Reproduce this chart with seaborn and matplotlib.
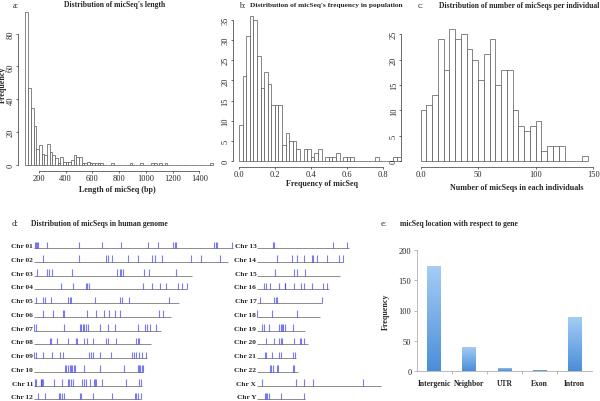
import numpy as np
import pandas as pd
import matplotlib
matplotlib.use('Agg')
import matplotlib.pyplot as plt
import seaborn as sns
from matplotlib.colors import LinearSegmentedColormap

W, H = 600, 402

# a: length of micSeq (bins of 20 bp starting at 100)
len_edges = np.arange(100, 1520, 20)
len_counts = [93, 47, 35, 24, 10, 12, 7, 6, 13, 8,
              6, 4, 1, 5, 2, 2, 2, 3, 6, 5,
              5, 1, 1, 2, 1, 1, 1, 1, 1, 0,
              0, 0, 1, 0, 0, 0, 0, 0, 0, 1,
              0, 0, 0, 1, 0, 0, 0, 1, 1, 0,
              1, 0, 1, 0, 0, 0, 0, 0, 0, 0,
              0, 0, 0, 0, 0, 0, 0, 0, 0, 1]

# b: frequency in population (bins of 0.02)
freq_edges = np.round(np.arange(0, 0.92, 0.02), 2)
freq_counts = [9, 21, 31, 36, 35, 26, 18, 22, 19, 14,
               14, 14, 4, 7, 5, 5, 3, 0, 3, 3,
               1, 2, 3, 0, 1, 1, 1, 2, 0, 1,
               1, 1, 0, 0, 0, 0, 0, 0, 1, 0,
               0, 0, 0, 1, 1]

# c: number of micSeqs per individual (bins of 5)
ind_edges = np.arange(0, 150, 5)
ind_counts = [10, 11, 13, 24, 18, 26, 24, 25, 22, 20,
              16, 21, 24, 15, 18, 18, 10, 7, 6, 7,
              8, 2, 3, 3, 3, 0, 0, 0, 1]

# d: micSeq positions per chromosome (Mb)
chr_names = ['Chr 01', 'Chr 02', 'Chr 03', 'Chr 04', 'Chr 05', 'Chr 06',
             'Chr 07', 'Chr 08', 'Chr 09', 'Chr 10', 'Chr 11', 'Chr 12',
             'Chr 13', 'Chr 14', 'Chr 15', 'Chr 16', 'Chr 17', 'Chr 18',
             'Chr 19', 'Chr 20', 'Chr 21', 'Chr 22', 'Chr X', 'Chr Y']
chr_lengths = [249, 243, 198, 191, 181, 171, 159, 146, 141, 136, 135, 134,
               115, 107, 103, 90, 81, 78, 59, 63, 48, 51, 155, 59]
chr01 = [0.8, 2, 3.3, 4.6, 15.8, 56.7, 85, 109, 143, 155, 174, 176, 177.5, 225, 227, 229, 248]
chr02 = [10.8, 56.7, 90, 92.5, 98, 118, 130, 148, 151.7, 160.4, 196, 208.7, 233]
chr03 = [3.3, 15.8, 19, 23, 48, 104, 107, 109, 111.7, 137.5, 144, 177]
chr04 = [33.7, 49, 64.6, 66, 69, 136, 148, 158, 165, 180, 185, 191]
chr05 = [2, 11.7, 14, 21, 43, 44.6, 46, 76, 108, 110, 119, 169]
chr06 = [11.7, 24, 36.7, 37.5, 66.7, 78, 88, 94, 101.7, 107.5, 156, 161]
chr07 = [0.4, 2, 38, 57, 59, 61, 63, 65, 67, 82, 93, 101, 130, 139, 141, 145, 152]
chr08 = [20, 21.7, 29, 43, 53, 54, 62, 66, 74, 90, 93, 102, 128, 130, 131.7]
chr09 = [0.4, 2, 11, 23, 33, 36, 69, 71, 74, 83, 96, 122, 125, 127.5, 131.7, 135, 140]
chr10 = [39, 40, 42.5, 45, 46.7, 48, 50, 51, 63, 83, 112, 130, 131.7, 133, 135, 136]
chr11 = [0.8, 2.5, 8.3, 9.2, 10.4, 11.7, 25, 35, 42.5, 44, 46, 49, 60, 62.5, 64.6,
         70.4, 75.4, 76.7, 78, 85, 115, 131.7, 133.3]
chr12 = [5.4, 14, 31, 33, 35, 38, 57.5, 59, 74, 98, 126, 127.5, 129.6, 134]
chr13 = [19.2, 20.9, 94, 112.5]
chr14 = [24, 43, 49, 58, 68, 70, 74, 87, 102, 107]
chr15 = [22.5, 45.5, 50, 60]
chr16 = [8.8, 11, 16, 27.5, 34, 35, 46, 55, 58, 68, 82.5, 86.7]
chr17 = [3, 21, 23, 25, 81]
chr18 = [0, 18, 50]
chr19 = [6.3, 8.4, 14, 27.5, 29, 31, 32, 34, 45]
chr20 = [11, 21, 27, 29, 31, 46, 53, 55, 58]
chr21 = [9, 11, 18, 27.5, 29, 44, 47]
chr22 = [16, 17.5, 19, 24, 25.5, 44, 46]
chrX = [5.5, 48, 58, 69, 132]
chrY = [9, 11, 12.5, 14, 29, 58]
chr_sites = [chr01, chr02, chr03, chr04, chr05, chr06, chr07, chr08, chr09, chr10,
             chr11, chr12, chr13, chr14, chr15, chr16, chr17, chr18, chr19, chr20,
             chr21, chr22, chrX, chrY]

# e: location with respect to gene
loc_names = ['Intergenic', 'Neighbor', 'UTR', 'Exon', 'Intron']
loc_counts = [173, 40, 5, 2, 90]

sns.set_style('white')
plt.rcParams['font.family'] = ['Liberation Serif', 'DejaVu Serif']
plt.rcParams['font.size'] = 5.5

fig = plt.figure(figsize=(W / 100, H / 100), dpi=100)


def px_axes(left, top, right, bottom):
    return fig.add_axes([left / W, 1 - bottom / H, (right - left) / W, (bottom - top) / H])


def fig_text(x, y, s, **kw):
    fig.text(x / W, 1 - y / H, s, **kw)


def r_style(ax, xb, yb):
    # base R look: axis lines only between first and last tick
    sns.despine(ax=ax)
    for side in ['left', 'bottom']:
        ax.spines[side].set_linewidth(0.5)
        ax.spines[side].set_color('#333333')
    ax.spines['bottom'].set_bounds(*xb)
    ax.spines['left'].set_bounds(*yb)
    ax.tick_params(direction='out', length=1.6, width=0.5, color='#333333',
                   labelsize=6, pad=0.6, left=True, bottom=True)
    for lab in ax.get_yticklabels():
        lab.set_rotation(90)
        lab.set_va('center')


def r_hist(ax, edges, counts):
    edges = np.asarray(edges, dtype=float)
    step = edges[1] - edges[0]
    df = pd.DataFrame({'x': edges[:-1] + step / 2, 'n': counts})
    sns.histplot(data=df, x='x', weights='n', binwidth=step,
                 binrange=(edges[0], edges[-1]), ax=ax, color='white',
                 edgecolor='#555555', linewidth=0.5, alpha=1)
    ax.set_xlabel('')
    ax.set_ylabel('')


# ---- a ----
ax_a = px_axes(18, 7.2, 220.2, 172.1)
r_hist(ax_a, len_edges, len_counts)
ax_a.set_xlim(44, 1556)
ax_a.set_ylim(-3.72, 96.72)
ax_a.set_xticks(range(200, 1401, 200))
ax_a.set_yticks(range(0, 81, 20))
r_style(ax_a, (200, 1400), (0, 80))
fig_text(15.5, 6.5, 'a:', fontsize=6, ha='center', va='center')
fig_text(114.5, 5, "Distribution of micSeq's length", fontsize=5.5, weight='bold', ha='center', va='center')
fig_text(117.5, 190, 'Length of micSeq (bp)', fontsize=5.8, weight='bold', ha='center', va='center')
fig_text(3, 85, 'Frequency', fontsize=5.8, weight='bold', ha='center', va='center', rotation=90)

# ---- b ----
ax_b = px_axes(232.5, 10.8, 407.1, 168.1)
r_hist(ax_b, freq_edges, freq_counts)
ax_b.set_xlim(-0.036, 0.936)
ax_b.set_ylim(-1.44, 37.44)
ax_b.set_xticks([0, 0.2, 0.4, 0.6, 0.8])
ax_b.set_xticklabels(['0.0', '0.2', '0.4', '0.6', '0.8'])
ax_b.set_yticks(range(0, 36, 5))
r_style(ax_b, (0, 0.8), (0, 35))
fig_text(242, 6, 'b:', fontsize=6, ha='center', va='center')
fig_text(326, 6, "Distribution of micSeq's frequency in population", fontsize=5.3,
         weight='bold', ha='center', va='center')
fig_text(321.5, 184, 'Frequency of micSeq', fontsize=5.8, weight='bold', ha='center', va='center')

# ---- c ----
ax_c = px_axes(401, 24.7, 594.2, 167.6)
r_hist(ax_c, ind_edges, ind_counts)
ax_c.set_xlim(-17.1, 150.8)
ax_c.set_ylim(-1.04, 27.04)
ax_c.set_xticks([0, 50, 100, 150])
ax_c.set_xticklabels(['0.0', '50', '100', '150'])
ax_c.set_yticks(range(0, 26, 5))
r_style(ax_c, (0, 150), (0, 25))
fig_text(420.5, 6, 'c:', fontsize=6, ha='center', va='center')
fig_text(439, 6, 'Distribution of number of micSeqs per individual', fontsize=5.5,
         weight='bold', ha='left', va='center')
fig_text(517, 188, 'Number of micSeqs in each individuals', fontsize=5.8, weight='bold',
         ha='center', va='center')

# ---- d ----
fig_text(15, 224, 'd:', fontsize=6.3, ha='center', va='center')
fig_text(30.7, 224, 'Distribution of micSeqs in human genome', fontsize=5.5, weight='bold',
         ha='left', va='center')
row_px = 13.75
for col, (x0, idx) in enumerate([(34, range(0, 12)), (257.3, range(12, 24))]):
    xmax = 250 if col == 0 else 160
    ax_d = px_axes(x0, 249 - 0.8 * row_px, x0 + xmax * 0.8, 249 + 11.2 * row_px)
    ax_d.set_xlim(0, xmax)
    ax_d.set_ylim(11.2, -0.8)
    ax_d.axis('off')
    for row, i in enumerate(idx):
        ax_d.hlines(row, 0, chr_lengths[i], color='#8c8c8c', linewidth=0.7)
        ax_d.vlines(chr_sites[i], row - 0.47, row, color='#3535f0', alpha=0.65, linewidth=0.8)
        ax_d.text(-1.2, row - 0.17, chr_names[i], ha='right', va='center',
                  fontsize=5.3, weight='bold', clip_on=False)

# ---- e ----
ax_e = px_axes(417, 250.7, 592, 372.3)
sns.barplot(x=loc_names, y=loc_counts, ax=ax_e, width=0.4, color='#6fa8e8')
ax_e.set_xlim(-0.5, 4.5)
ax_e.set_ylim(0, 200)
grad = np.linspace(0, 1, 256).reshape(-1, 1)
cmap = LinearSegmentedColormap.from_list('bar', ['#4a8ed8', '#a6cdf6'])
for p in list(ax_e.patches):
    bb = p.get_bbox()
    p.set_facecolor('none')
    p.set_edgecolor('none')
    im = ax_e.imshow(grad, extent=[bb.x0, bb.x1, bb.y0, bb.y1], origin='lower',
                     cmap=cmap, aspect='auto', zorder=2)
    im.set_clip_path(p)
ax_e.set_xlim(-0.5, 4.5)
ax_e.set_ylim(0, 200)
sns.despine(ax=ax_e)
for side in ['left', 'bottom']:
    ax_e.spines[side].set_linewidth(0.6)
    ax_e.spines[side].set_color('#b0b0b0')
ax_e.set_yticks(range(0, 201, 50))
ax_e.set_xticks([0.5, 1.5, 2.5, 3.5])
ax_e.set_xticklabels([])
ax_e.tick_params(axis='y', direction='out', length=2, width=0.6, color='#b0b0b0',
                 labelsize=6, pad=2, left=True)
ax_e.tick_params(axis='x', direction='out', length=2, width=0.6, color='#b0b0b0', bottom=True)
for k, name in enumerate(loc_names):
    ax_e.text(k, -12, name, ha='center', va='top', fontsize=5.5, weight='bold')
ax_e.set_xlabel('')
ax_e.set_ylabel('Frequency', fontsize=5.8, weight='bold', labelpad=6)
fig_text(384, 224, 'e:', fontsize=6.3, ha='center', va='center')
fig_text(400, 224, 'micSeq location with respect to gene', fontsize=5.5, weight='bold',
         ha='left', va='center')

fig.savefig('out.png', dpi=100)
